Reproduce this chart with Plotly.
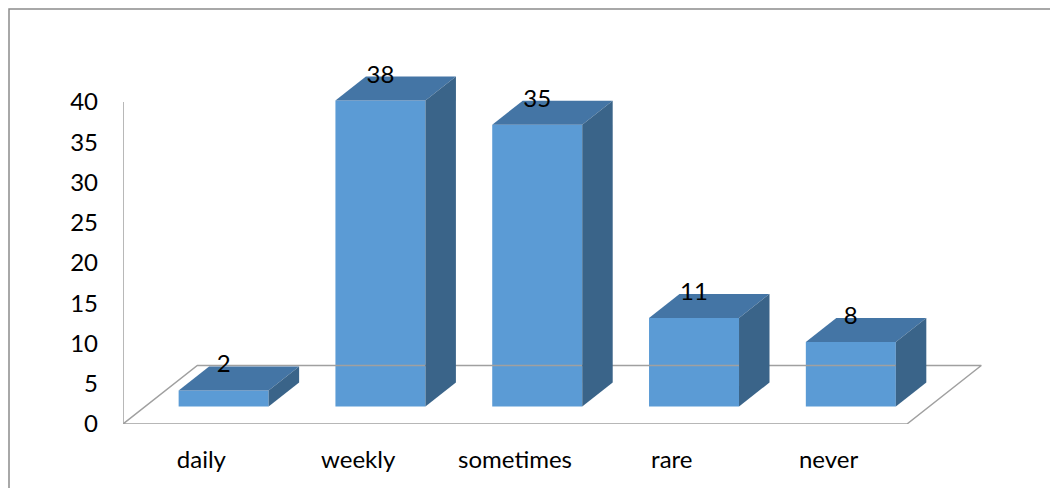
import plotly.graph_objects as go

# Survey answers: how often
categories = ["daily", "weekly", "sometimes", "rare", "never"]
counts = [2, 38, 35, 11, 8]
y_ticks = [0, 5, 10, 15, 20, 25, 30, 35, 40]

# Canvas and plot-area geometry (pixels)
W, H = 1050, 488
M_L, M_R, M_T, M_B = 123, 30, 30, 64
PX_PER_SLOT = 156.8          # horizontal pixels per category slot
PX_PER_UNIT = 8.05           # vertical pixels per count unit
plot_w = W - M_L - M_R
plot_h = H - M_T - M_B
x_range = [-0.5, -0.5 + plot_w / PX_PER_SLOT]
y_range = [0, plot_h / PX_PER_UNIT]

# Oblique projection of depth (given in vertical pixels)
SLANT = 1.27
def dx(d):
    return SLANT * d / PX_PER_SLOT
def dy(d):
    return d / PX_PER_UNIT

FLOOR_DEPTH = 58.5
BAR_FRONT = 17.5
BAR_BACK = 41.5
BAR_W = 90 / PX_PER_SLOT

FRONT_C = "#5B9BD5"
TOP_C = "#4475A5"
SIDE_C = "#3A6489"
LINE_C = "#A0A0A0"
FONT = "Lato"
FSIZE = 24

fig = go.Figure()

# Floor parallelogram
n = len(categories)
fx = [-0.5, n - 0.5, n - 0.5 + dx(FLOOR_DEPTH), -0.5 + dx(FLOOR_DEPTH), -0.5]
fy = [0, 0, dy(FLOOR_DEPTH), dy(FLOOR_DEPTH), 0]
fig.add_trace(go.Scatter(x=fx, y=fy, mode="lines",
                         line=dict(color=LINE_C, width=1.5),
                         hoverinfo="skip", showlegend=False))

# Vertical value axis line
fig.add_trace(go.Scatter(x=[-0.5, -0.5], y=[0, y_ticks[-1]], mode="lines",
                         line=dict(color=LINE_C, width=1.5),
                         hoverinfo="skip", showlegend=False))

xf, yf = dx(BAR_FRONT), dy(BAR_FRONT)
xb, yb = dx(BAR_BACK), dy(BAR_BACK)
half = BAR_W / 2

# Front faces as bars, lifted and shifted to their depth position
fig.add_trace(go.Bar(x=[i + xf for i in range(n)], y=counts, base=[yf] * n,
                     width=BAR_W, marker=dict(color=FRONT_C, line=dict(width=0)),
                     hoverinfo="skip", showlegend=False))

# Top and side faces of each bar
for i, v in enumerate(counts):
    l, r = i - half + xf, i + half + xf
    top = v + yf
    fig.add_trace(go.Scatter(
        x=[l, r, r + (xb - xf), l + (xb - xf), l],
        y=[top, top, top + (yb - yf), top + (yb - yf), top],
        fill="toself", fillcolor=TOP_C, mode="lines", line=dict(width=0),
        hoverinfo="skip", showlegend=False))
    fig.add_trace(go.Scatter(
        x=[r, r + (xb - xf), r + (xb - xf), r, r],
        y=[yf, yb, top + (yb - yf), top, yf],
        fill="toself", fillcolor=SIDE_C, mode="lines", line=dict(width=0),
        hoverinfo="skip", showlegend=False))

# Value labels above each bar
fig.add_trace(go.Scatter(
    x=[i + xf for i in range(n)], y=[v + yb for v in counts],
    mode="text", text=[str(v) for v in counts],
    textposition="middle center",
    textfont=dict(family=FONT, size=FSIZE, color="black"),
    hoverinfo="skip", showlegend=False))

# Outer chart border
def px_to_paper_x(p):
    return (p - M_L) / plot_w
def px_to_paper_y(p):
    return (H - M_B - p) / plot_h

fig.add_shape(type="rect", xref="paper", yref="paper",
              x0=px_to_paper_x(9), x1=px_to_paper_x(W + 20),
              y0=px_to_paper_y(H + 20), y1=px_to_paper_y(9),
              line=dict(color="#8C8C8C", width=1.5), fillcolor="rgba(0,0,0,0)",
              layer="below")

fig.update_layout(
    width=W, height=H,
    margin=dict(l=M_L, r=M_R, t=M_T, b=M_B, autoexpand=False),
    plot_bgcolor="white", paper_bgcolor="white",
    barmode="overlay",
    font=dict(family=FONT, size=FSIZE, color="black"),
    xaxis=dict(range=x_range, tickmode="array",
               tickvals=list(range(n)), ticktext=categories,
               showgrid=False, zeroline=False, showline=False,
               ticks="", ticklabelstandoff=19, fixedrange=True),
    yaxis=dict(range=y_range, tickmode="array", tickvals=y_ticks,
               ticktext=[str(t) for t in y_ticks],
               showgrid=False, zeroline=False, showline=False,
               ticks="", ticklabelstandoff=24, fixedrange=True),
)

fig.write_html("out.html")
